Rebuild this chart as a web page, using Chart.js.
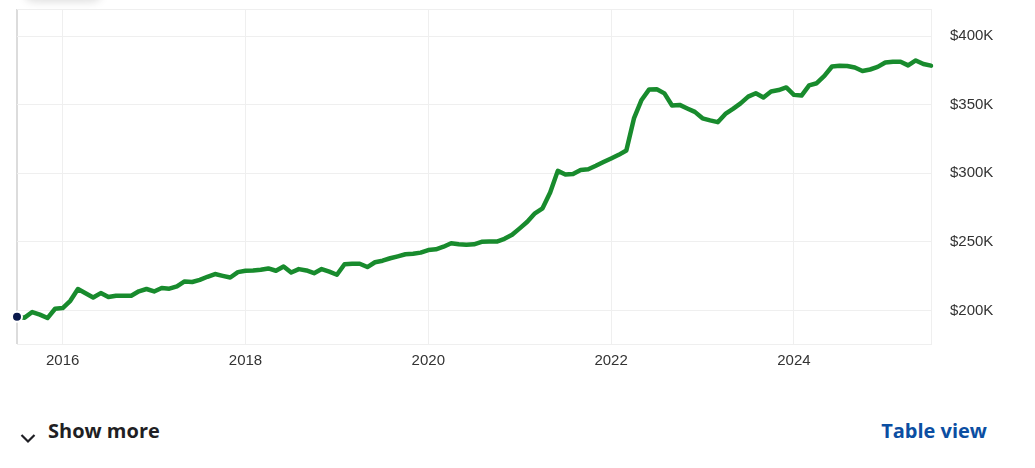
<!DOCTYPE html>
<html>
<head>
<meta charset="utf-8">
<script src="https://cdn.jsdelivr.net/npm/chart.js"></script>
<style>
  html, body { margin: 0; padding: 0; background: #fff; width: 1035px; height: 468px; overflow: hidden; }
  #wrap { position: absolute; left: 0; top: 0; width: 1000px; height: 372px; }
  .shade { position: absolute; left: 24px; top: -26px; width: 78px; height: 26px; border-radius: 10px; box-shadow: 0 2px 9px rgba(0,0,0,.13); }
  .foot { position: absolute; top: 421px; font: 700 20px/20px "Open Sans", sans-serif; white-space: nowrap; }
  .more { left: 20px; color: #1f1f24; }
  .more svg { position: absolute; left: 0; top: 12px; }
  .more span { margin-left: 28px; }
  .table { right: 48px; color: #0b4ea2; }
</style>
</head>
<body>
<div class="shade"></div>
<div id="wrap"><canvas id="homeChart"></canvas></div>
<div class="foot more"><svg width="16" height="11" viewBox="0 0 16 11"><polyline points="1.5,2 8,8.5 14.5,2" fill="none" stroke="#1f1f24" stroke-width="2.2"/></svg><span>Show more</span></div>
<div class="foot table">Table view</div>
<script>
// monthly typical home value, thousands of dollars
const months = [
  '2015-07','2015-08','2015-09','2015-10','2015-11','2015-12',
  '2016-01','2016-02','2016-03','2016-04','2016-05','2016-06','2016-07','2016-08','2016-09','2016-10','2016-11','2016-12',
  '2017-01','2017-02','2017-03','2017-04','2017-05','2017-06','2017-07','2017-08','2017-09','2017-10','2017-11','2017-12',
  '2018-01','2018-02','2018-03','2018-04','2018-05','2018-06','2018-07','2018-08','2018-09','2018-10','2018-11','2018-12',
  '2019-01','2019-02','2019-03','2019-04','2019-05','2019-06','2019-07','2019-08','2019-09','2019-10','2019-11','2019-12',
  '2020-01','2020-02','2020-03','2020-04','2020-05','2020-06','2020-07','2020-08','2020-09','2020-10','2020-11','2020-12',
  '2021-01','2021-02','2021-03','2021-04','2021-05','2021-06','2021-07','2021-08','2021-09','2021-10','2021-11','2021-12',
  '2022-01','2022-02','2022-03','2022-04','2022-05','2022-06','2022-07','2022-08','2022-09','2022-10','2022-11','2022-12',
  '2023-01','2023-02','2023-03','2023-04','2023-05','2023-06','2023-07','2023-08','2023-09','2023-10','2023-11','2023-12',
  '2024-01','2024-02','2024-03','2024-04','2024-05','2024-06','2024-07','2024-08','2024-09','2024-10','2024-11','2024-12',
  '2025-01','2025-02','2025-03','2025-04','2025-05','2025-06','2025-07'
];
const homeValuesK = [
  195.4, 194.8, 198.9, 197.0, 194.5, 201.3,
  201.8, 207.1, 215.7, 212.6, 209.5, 212.7, 209.8, 210.8, 210.8, 210.8, 214.0, 215.7,
  213.9, 216.4, 215.9, 217.6, 221.2, 220.8, 222.4, 224.6, 226.6, 225.3, 224.1, 228.0,
  229.0, 229.1, 229.7, 230.7, 229.0, 232.1, 227.7, 230.2, 229.2, 227.2, 230.2, 228.3,
  226.1, 233.7, 234.1, 234.1, 231.7, 235.2, 236.3, 238.1, 239.5, 241.0, 241.4, 242.2,
  244.1, 244.6, 246.5, 249.0, 248.3, 247.9, 248.3, 250.1, 250.3, 250.3, 252.3, 255.2,
  259.9, 264.7, 270.9, 274.5, 286.0, 301.8, 299.1, 299.6, 302.5, 303.0, 305.5, 308.2,
  310.8, 313.5, 316.7, 340.0, 353.5, 361.2, 361.3, 358.3, 349.5, 349.9, 347.3, 344.8,
  340.1, 338.6, 337.3, 343.3, 347.0, 351.0, 355.9, 358.4, 355.3, 359.7, 360.7, 362.6,
  357.2, 356.7, 364.1, 365.7, 371.0, 377.9, 378.4, 378.3, 377.2, 374.6, 375.7, 377.6,
  380.8, 381.4, 381.4, 378.7, 382.3, 379.7, 378.5
];
const xTickYears = [2016, 2018, 2020, 2022, 2024];
const yTicksK = [200, 250, 300, 350, 400];

const points = months.map((m, i) => {
  const [yr, mo] = m.split('-').map(Number);
  return { x: yr + (mo - 1) / 12, y: homeValuesK[i] };
});
const xMin = points[0].x, xMax = points[points.length - 1].x;
const yMin = 175.6, yMax = 419.8;

const tickFont = { family: '"Liberation Sans", Arial, sans-serif', size: 15 };
const gridGray = '#efefef';

new Chart(document.getElementById('homeChart'), {
  type: 'line',
  data: {
    datasets: [{
      data: points,
      borderColor: '#188b2d',
      borderWidth: 4.5,
      borderCapStyle: 'round',
      borderJoinStyle: 'round',
      tension: 0,
      clip: false,
      pointRadius: ctx => ctx.dataIndex === 0 ? 5 : 0,
      pointBackgroundColor: '#0b1a4c',
      pointBorderColor: '#ffffff',
      pointBorderWidth: 2
    }]
  },
  options: {
    responsive: true,
    maintainAspectRatio: false,
    animation: false,
    events: [],
    layout: { padding: { left: 17, top: 9, right: 0, bottom: 0 } },
    plugins: { legend: { display: false }, tooltip: { enabled: false } },
    scales: {
      x: {
        type: 'linear',
        min: xMin,
        max: xMax,
        afterBuildTicks: s => { s.ticks = [xMin, ...xTickYears, xMax].map(v => ({ value: v })); },
        afterFit: s => { s.height = 28; s.paddingLeft = 0; s.paddingRight = 0; },
        ticks: {
          autoSkip: false, maxRotation: 0, padding: 8, color: '#333', font: tickFont,
          callback: v => xTickYears.includes(v) ? String(v) : ''
        },
        grid: {
          drawTicks: false,
          color: ctx => ctx.index === 0 ? '#dcdcdc' : gridGray,
          lineWidth: ctx => ctx.index === 0 ? 2 : 1
        },
        border: { color: gridGray }
      },
      y: {
        type: 'linear',
        position: 'right',
        min: yMin,
        max: yMax,
        afterBuildTicks: s => { s.ticks = [yMin, ...yTicksK, yMax].map(v => ({ value: v })); },
        afterFit: s => { s.width = 69; s.paddingTop = 0; s.paddingBottom = 0; },
        ticks: {
          padding: 19, color: '#333', font: tickFont,
          callback: v => yTicksK.includes(v) ? '$' + v + 'K' : ''
        },
        grid: { drawTicks: false, color: gridGray },
        border: { color: gridGray }
      }
    }
  }
});
</script>
</body>
</html>
